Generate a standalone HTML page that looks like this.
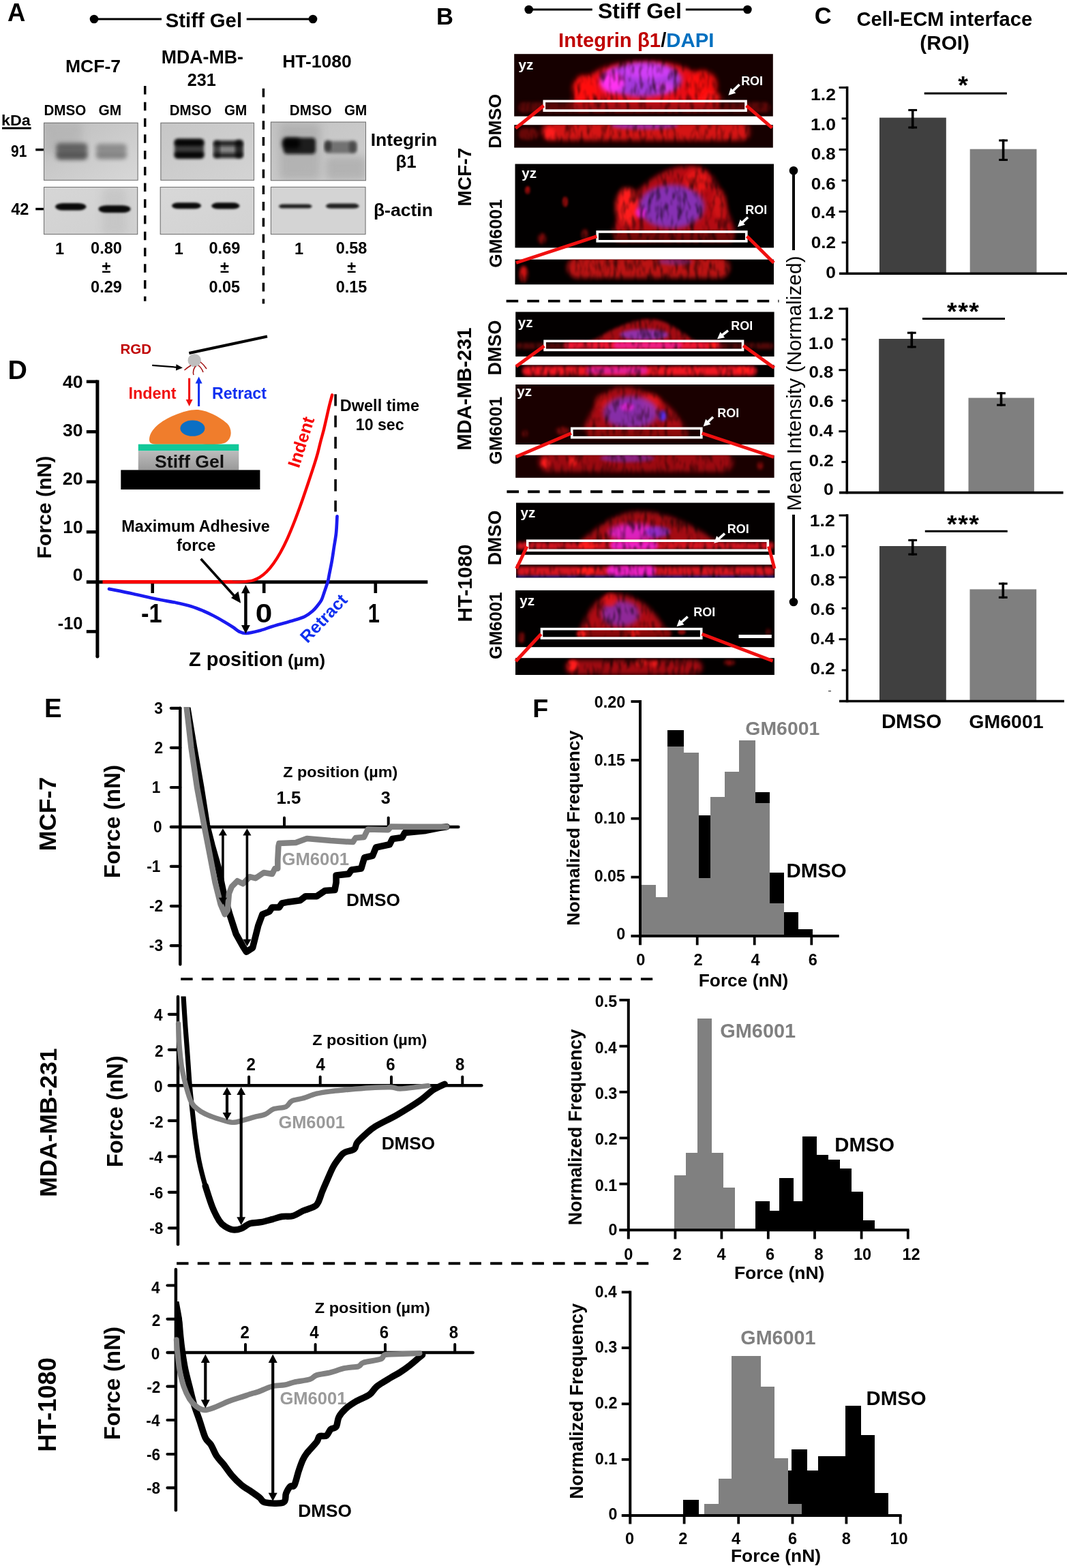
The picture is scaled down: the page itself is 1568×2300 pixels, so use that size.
<!DOCTYPE html>
<html lang="en"><head><meta charset="utf-8"><title>Figure</title>
<style>
html,body{margin:0;padding:0;background:#fff;}
body{width:1568px;height:2300px;overflow:hidden;}
svg{display:block;}
svg text{font-family:"Liberation Sans",sans-serif;white-space:pre;}
</style></head><body>
<svg width="1568" height="2300" viewBox="0 0 1568 2300">
<rect width="1568" height="2300" fill="#fff"/>
<defs><filter id="bl2" x="-20%" y="-60%" width="140%" height="220%"><feGaussianBlur stdDeviation="2"/></filter><filter id="bl3" x="-20%" y="-60%" width="140%" height="220%"><feGaussianBlur stdDeviation="3"/></filter><filter id="bl1" x="-20%" y="-60%" width="140%" height="220%"><feGaussianBlur stdDeviation="1.5"/></filter><filter id="bl6" x="-30%" y="-80%" width="160%" height="260%"><feGaussianBlur stdDeviation="6"/></filter></defs>
<text x="11.09" y="30.6" font-size="36.43" font-weight="bold" fill="#000">A</text>
<line x1="138" y1="28" x2="237" y2="28" stroke="#000" stroke-width="3"/><circle cx="138" cy="28" r="6.3" fill="#000"/><line x1="361.7" y1="28" x2="459" y2="28" stroke="#000" stroke-width="3"/><circle cx="459" cy="28" r="6.3" fill="#000"/>
<text x="242.79" y="39.5" font-size="29.29" font-weight="bold" fill="#000">Stiff Gel</text>
<text x="95.97" y="106" font-size="26.56" font-weight="bold" fill="#000">MCF-7</text>
<text x="236.76" y="93" font-size="26.71" font-weight="bold" fill="#000">MDA-MB-</text>
<text x="274.68" y="125.8" font-size="25.16" font-weight="bold" fill="#000">231</text>
<text x="414.28" y="99" font-size="26.44" font-weight="bold" fill="#000">HT-1080</text>
<text transform="translate(65.8,168.5) scale(0.9374,1)" x="-1.43" y="0" font-size="22" font-weight="bold" fill="#000">DMSO</text>
<text transform="translate(250,168.5) scale(0.9326,1)" x="-1.43" y="0" font-size="22" font-weight="bold" fill="#000">DMSO</text>
<text transform="translate(426.2,168.5) scale(0.9389,1)" x="-1.43" y="0" font-size="22" font-weight="bold" fill="#000">DMSO</text>
<text transform="translate(145.4,168.5) scale(0.9484,1)" x="-0.88" y="0" font-size="22" font-weight="bold" fill="#000">GM</text>
<text transform="translate(329.8,168.5) scale(0.9423,1)" x="-0.88" y="0" font-size="22" font-weight="bold" fill="#000">GM</text>
<text transform="translate(505.8,168.5) scale(0.9423,1)" x="-0.88" y="0" font-size="22" font-weight="bold" fill="#000">GM</text>
<text transform="translate(3.5,184.2) scale(1.0521,1)" x="-1.5" y="0" font-size="22.2" font-weight="bold" fill="#000">kDa</text>
<line x1="3" y1="188.1" x2="45.7" y2="188.1" stroke="#000" stroke-width="3"/>
<text transform="translate(16.8,229.6) scale(0.8602,1)" x="-0.79" y="0" font-size="24.3" font-weight="bold" fill="#000">91</text>
<text transform="translate(16.6,314.8) scale(0.9690,1)" x="-0.36" y="0" font-size="24.3" font-weight="bold" fill="#000">42</text>
<line x1="52.2" y1="219.6" x2="63.8" y2="219.6" stroke="#000" stroke-width="3.5"/><line x1="52.2" y1="306.6" x2="63.8" y2="306.6" stroke="#000" stroke-width="3.5"/>
<defs><clipPath id="cb1"><rect x="64" y="179.8" width="138.6" height="85"/></clipPath><linearGradient id="gb1" x1="0" y1="0" x2="1" y2="1"><stop offset="0" stop-color="#bdbdbd"/><stop offset="1" stop-color="#d8d8d8"/></linearGradient></defs><rect x="64" y="179.8" width="138.6" height="85" fill="url(#gb1)"/><g clip-path="url(#cb1)"><rect x="64" y="180" width="56" height="45" rx="5" fill="#aaa" opacity="0.5" filter="url(#bl6)"/><rect x="82.5" y="210" width="45.5" height="12" rx="5" fill="#555" opacity="0.75" filter="url(#bl3)"/><rect x="82.5" y="221" width="45.5" height="13" rx="5" fill="#4a4a4a" opacity="0.85" filter="url(#bl3)"/><rect x="84" y="212" width="43" height="20" rx="5" fill="#555" opacity="0.5" filter="url(#bl3)"/><rect x="141" y="211" width="44.5" height="11" rx="5" fill="#777" opacity="0.6" filter="url(#bl3)"/><rect x="141" y="222" width="44.5" height="11" rx="5" fill="#6a6a6a" opacity="0.65" filter="url(#bl3)"/><rect x="142" y="213" width="43" height="19" rx="5" fill="#777" opacity="0.4" filter="url(#bl3)"/></g><rect x="64.5" y="180.3" width="137.6" height="84" fill="none" stroke="#6e6e6e" stroke-width="1"/>
<defs><clipPath id="cb2"><rect x="64" y="274" width="138.2" height="70.1"/></clipPath><linearGradient id="gb2" x1="0" y1="0" x2="1" y2="1"><stop offset="0" stop-color="#d6d6d6"/><stop offset="1" stop-color="#d0d0d0"/></linearGradient></defs><rect x="64" y="274" width="138.2" height="70.1" fill="url(#gb2)"/><g clip-path="url(#cb2)"><rect x="150" y="276" width="35" height="68" rx="5" fill="#bbb" opacity="0.5" filter="url(#bl6)"/><rect x="81" y="298" width="45.5" height="10.5" rx="11.55" ry="5.25" fill="#000" opacity="0.95" filter="url(#bl1)"/><rect x="144.5" y="301.3" width="47" height="10.7" rx="11.77" ry="5.35" fill="#000" opacity="0.95" filter="url(#bl1)"/></g><rect x="64.5" y="274.5" width="137.2" height="69.1" fill="none" stroke="#6e6e6e" stroke-width="1"/>
<defs><clipPath id="cb3"><rect x="235.4" y="179.8" width="137.6" height="85"/></clipPath><linearGradient id="gb3" x1="0" y1="0" x2="1" y2="1"><stop offset="0" stop-color="#c6c6c6"/><stop offset="1" stop-color="#d4d4d4"/></linearGradient></defs><rect x="235.4" y="179.8" width="137.6" height="85" fill="url(#gb3)"/><g clip-path="url(#cb3)"><rect x="256" y="204" width="43" height="28" rx="5" fill="#222" opacity="0.85" filter="url(#bl2)"/><rect x="256" y="204.5" width="43" height="9.5" rx="4.75" fill="#000" opacity="0.9" filter="url(#bl2)"/><rect x="256" y="223" width="43" height="9" rx="4.5" fill="#000" opacity="0.9" filter="url(#bl2)"/><rect x="313.5" y="207" width="42.5" height="24" rx="5" fill="#666" opacity="0.7" filter="url(#bl2)"/><rect x="313.5" y="206.5" width="42.5" height="7.5" rx="3.75" fill="#111" opacity="0.8" filter="url(#bl2)"/><rect x="313.5" y="224.5" width="42.5" height="7" rx="3.5" fill="#111" opacity="0.8" filter="url(#bl2)"/><rect x="345" y="205" width="11.5" height="27" rx="5" fill="#000" opacity="0.7" filter="url(#bl2)"/><rect x="313" y="206" width="10" height="26" rx="5" fill="#000" opacity="0.5" filter="url(#bl2)"/></g><rect x="235.9" y="180.3" width="136.6" height="84" fill="none" stroke="#6e6e6e" stroke-width="1"/>
<defs><clipPath id="cb4"><rect x="234.7" y="274" width="138.3" height="70.1"/></clipPath><linearGradient id="gb4" x1="0" y1="0" x2="1" y2="1"><stop offset="0" stop-color="#d8d8d8"/><stop offset="1" stop-color="#d2d2d2"/></linearGradient></defs><rect x="234.7" y="274" width="138.3" height="70.1" fill="url(#gb4)"/><g clip-path="url(#cb4)"><rect x="252" y="297.3" width="43" height="9" rx="9.9" ry="4.5" fill="#000" opacity="0.95" filter="url(#bl1)"/><rect x="310.2" y="297.3" width="41.3" height="9.3" rx="10.23" ry="4.65" fill="#000" opacity="0.95" filter="url(#bl1)"/></g><rect x="235.2" y="274.5" width="137.3" height="69.1" fill="none" stroke="#6e6e6e" stroke-width="1"/>
<defs><clipPath id="cb5"><rect x="396.9" y="178.6" width="140.1" height="86.6"/></clipPath><linearGradient id="gb5" x1="0" y1="0" x2="1" y2="1"><stop offset="0" stop-color="#c2c2c2"/><stop offset="1" stop-color="#cfcfcf"/></linearGradient></defs><rect x="396.9" y="178.6" width="140.1" height="86.6" fill="url(#gb5)"/><g clip-path="url(#cb5)"><rect x="410" y="181" width="60" height="83" rx="5" fill="#999" opacity="0.45" filter="url(#bl6)"/><rect x="478" y="230" width="59" height="34" rx="5" fill="#999" opacity="0.5" filter="url(#bl6)"/><rect x="416" y="202" width="47" height="24" rx="5" fill="#111" opacity="0.9" filter="url(#bl2)"/><rect x="414" y="203" width="26" height="15" rx="5" fill="#000" opacity="0.9" filter="url(#bl3)"/><rect x="476" y="207" width="47" height="18" rx="5" fill="#555" opacity="0.75" filter="url(#bl2)"/><rect x="476" y="206" width="10" height="16" rx="5" fill="#222" opacity="0.7" filter="url(#bl2)"/><rect x="512" y="207" width="11" height="17" rx="5" fill="#333" opacity="0.6" filter="url(#bl2)"/></g><rect x="397.4" y="179.1" width="139.1" height="85.6" fill="none" stroke="#6e6e6e" stroke-width="1"/>
<defs><clipPath id="cb6"><rect x="396.9" y="273.9" width="139.6" height="70.2"/></clipPath><linearGradient id="gb6" x1="0" y1="0" x2="1" y2="1"><stop offset="0" stop-color="#d4d4d4"/><stop offset="1" stop-color="#d4d4d4"/></linearGradient></defs><rect x="396.9" y="273.9" width="139.6" height="70.2" fill="url(#gb6)"/><g clip-path="url(#cb6)"><rect x="409" y="299.6" width="48.5" height="6" rx="6.6" ry="3" fill="#111" opacity="0.9" filter="url(#bl1)"/><rect x="478" y="298.6" width="48.5" height="7.2" rx="7.92" ry="3.6" fill="#111" opacity="0.9" filter="url(#bl1)"/></g><rect x="397.4" y="274.4" width="138.6" height="69.2" fill="none" stroke="#6e6e6e" stroke-width="1"/>
<text x="543.67" y="214.3" font-size="26.64" font-weight="bold" fill="#000">Integrin</text>
<text x="580.56" y="245.8" font-size="25.83" font-weight="bold" fill="#000">β1</text>
<text x="547.91" y="316.7" font-size="26.57" font-weight="bold" fill="#000">β-actin</text>
<text x="81.04" y="372.6" font-size="23.5" font-weight="bold" fill="#000">1</text>
<text x="133.12" y="372.2" font-size="23.53" font-weight="bold" fill="#000">0.80</text>
<text x="149.54" y="400" font-size="23.5" font-weight="bold" fill="#000">±</text>
<text x="133.12" y="428.8" font-size="23.5" font-weight="bold" fill="#000">0.29</text>
<text x="255.84" y="372.6" font-size="23.5" font-weight="bold" fill="#000">1</text>
<text x="306.52" y="372.2" font-size="23.55" font-weight="bold" fill="#000">0.69</text>
<text x="322.99" y="400" font-size="23.5" font-weight="bold" fill="#000">±</text>
<text x="306.52" y="428.8" font-size="23.43" font-weight="bold" fill="#000">0.05</text>
<text x="432.04" y="372.6" font-size="23.5" font-weight="bold" fill="#000">1</text>
<text x="492.72" y="372.2" font-size="23.46" font-weight="bold" fill="#000">0.58</text>
<text x="509.19" y="400" font-size="23.5" font-weight="bold" fill="#000">±</text>
<text x="492.72" y="428.8" font-size="23.43" font-weight="bold" fill="#000">0.15</text>
<line x1="212.7" y1="126" x2="212.7" y2="441.7" stroke="#000" stroke-width="3.5" stroke-dasharray="12.6 11.15"/>
<line x1="386.4" y1="129.8" x2="386.4" y2="445.5" stroke="#000" stroke-width="3.5" stroke-dasharray="12.6 11.15"/>
<defs><filter id="fb1" x="-30%" y="-60%" width="160%" height="220%"><feGaussianBlur stdDeviation="1.2"/></filter><filter id="fb2" x="-30%" y="-80%" width="160%" height="260%"><feGaussianBlur stdDeviation="2.2"/></filter><filter id="fb3" x="-30%" y="-60%" width="160%" height="220%"><feGaussianBlur stdDeviation="3.5"/></filter><filter id="fb5" x="-30%" y="-60%" width="160%" height="220%"><feGaussianBlur stdDeviation="5.5"/></filter><filter id="tex0" filterUnits="userSpaceOnUse" x="750" y="70" width="392" height="930" color-interpolation-filters="sRGB"><feTurbulence type="fractalNoise" baseFrequency="0.16 0.05" numOctaves="2" seed="3" result="n"/><feColorMatrix in="n" type="matrix" values="0 0 0 0 0  0 0 0 0 0  0 0 0 0 0  0 0 0 1.7 0.08" result="a"/><feComposite in="SourceGraphic" in2="a" operator="in" result="c"/><feGaussianBlur in="c" stdDeviation="1.1"/></filter><filter id="tex1" filterUnits="userSpaceOnUse" x="750" y="70" width="392" height="930" color-interpolation-filters="sRGB"><feTurbulence type="fractalNoise" baseFrequency="0.16 0.05" numOctaves="2" seed="7" result="n"/><feColorMatrix in="n" type="matrix" values="0 0 0 0 0  0 0 0 0 0  0 0 0 0 0  0 0 0 1.7 0.08" result="a"/><feComposite in="SourceGraphic" in2="a" operator="in" result="c"/><feGaussianBlur in="c" stdDeviation="1.1"/></filter><filter id="tex2" filterUnits="userSpaceOnUse" x="750" y="70" width="392" height="930" color-interpolation-filters="sRGB"><feTurbulence type="fractalNoise" baseFrequency="0.16 0.05" numOctaves="2" seed="11" result="n"/><feColorMatrix in="n" type="matrix" values="0 0 0 0 0  0 0 0 0 0  0 0 0 0 0  0 0 0 1.7 0.08" result="a"/><feComposite in="SourceGraphic" in2="a" operator="in" result="c"/><feGaussianBlur in="c" stdDeviation="1.1"/></filter></defs>
<text x="640.05" y="35.7" font-size="34.61" font-weight="bold" fill="#000">B</text>
<line x1="775.7" y1="14" x2="868.8" y2="14" stroke="#000" stroke-width="3"/><circle cx="775.7" cy="14" r="6.3" fill="#000"/><line x1="1005.8" y1="14" x2="1096.4" y2="14" stroke="#000" stroke-width="3"/><circle cx="1096.4" cy="14" r="6.3" fill="#000"/>
<text x="876.92" y="26.8" font-size="32.1" font-weight="bold" fill="#000">Stiff Gel</text>
<text x="819.09" y="69.4" font-size="29.37" font-weight="bold"><tspan fill="#c00000">Integrin β1</tspan><tspan fill="#000">/</tspan><tspan fill="#0070c0">DAPI</tspan></text>
<text transform="translate(691.3,301) rotate(-90)" x="-1.83" y="0" font-size="28.16" font-weight="bold" fill="#000">MCF-7</text>
<text transform="translate(691.3,658.9) rotate(-90)" x="-1.9" y="0" font-size="29.22" font-weight="bold" fill="#000">MDA-MB-231</text>
<text transform="translate(692.3,910.6) rotate(-90)" x="-1.93" y="0" font-size="29.77" font-weight="bold" fill="#000">HT-1080</text>
<text transform="translate(735.3,216) rotate(-90)" x="-1.73" y="0" font-size="26.6" font-weight="bold" fill="#000">DMSO</text>
<text transform="translate(735.3,548.7) rotate(-90)" x="-1.76" y="0" font-size="27.01" font-weight="bold" fill="#000">DMSO</text>
<text transform="translate(735.3,827.6) rotate(-90)" x="-1.75" y="0" font-size="26.91" font-weight="bold" fill="#000">DMSO</text>
<text transform="translate(735.6,391.7) rotate(-90)" x="-1.05" y="0" font-size="26.21" font-weight="bold" fill="#000">GM6001</text>
<text transform="translate(735.6,680.4) rotate(-90)" x="-1.04" y="0" font-size="25.94" font-weight="bold" fill="#000">GM6001</text>
<text transform="translate(735.6,966) rotate(-90)" x="-1.03" y="0" font-size="25.68" font-weight="bold" fill="#000">GM6001</text>
<line x1="742.6" y1="441.6" x2="1142.5" y2="441.6" stroke="#000" stroke-width="3.9" stroke-dasharray="17.6 13.07"/>
<line x1="743.4" y1="721.2" x2="1129.2" y2="721.2" stroke="#000" stroke-width="3.9" stroke-dasharray="17.6 13.07"/>
<defs><clipPath id="ci1a"><rect x="754.2" y="79.2" width="379.6" height="91.4"/></clipPath><clipPath id="ci1b"><rect x="754.2" y="183.2" width="379.6" height="33.4"/></clipPath></defs><rect x="754.2" y="79.2" width="379.6" height="91.4" fill="#160000"/><rect x="754.2" y="183.2" width="379.6" height="33.4" fill="#160000"/><g clip-path="url(#ci1a)"><g filter="url(#tex1)"><path d="M836 160 C849.14 107.5 885.27 90 945.5 90 C1005.73 90 1041.86 107.5 1055 160 Z" fill="#e81018" opacity="1" filter="url(#fb3)"/><ellipse cx="858" cy="130" rx="18" ry="20" fill="#ff1010" opacity="1" filter="url(#fb3)"/><ellipse cx="1030" cy="125" rx="22" ry="22" fill="#ff1010" opacity="0.9" filter="url(#fb3)"/><ellipse cx="1045" cy="145" rx="14" ry="10" fill="#ff1414" opacity="0.8" filter="url(#fb3)"/><ellipse cx="942" cy="117" rx="58" ry="25" fill="#9a40ff" opacity="0.85" filter="url(#fb3)"/><ellipse cx="898" cy="120" rx="18" ry="16" fill="#ff30f0" opacity="1" filter="url(#fb3)"/><ellipse cx="950" cy="105" rx="36" ry="11" fill="#e040ff" opacity="0.75" filter="url(#fb3)"/><ellipse cx="975" cy="128" rx="14" ry="8" fill="#f040f0" opacity="0.6" filter="url(#fb3)"/><rect x="760" y="150" width="370" height="15" rx="7.5" fill="#8a080c" opacity="0.6" filter="url(#fb2)"/><rect x="840" y="152" width="210" height="12" rx="6" fill="#b00e14" opacity="0.5" filter="url(#fb2)"/></g></g><g clip-path="url(#ci1b)"><g filter="url(#tex2)"><rect x="795" y="180" width="305" height="26" rx="13" fill="#e01218" opacity="0.95" filter="url(#fb3)"/><ellipse cx="807" cy="196" rx="8" ry="9" fill="#ff1a1a" opacity="1" filter="url(#fb2)"/><ellipse cx="945" cy="184" rx="50" ry="6" fill="#9030d0" opacity="0.7" filter="url(#fb2)"/><rect x="760" y="188" width="30" height="17" rx="8.5" fill="#a00a0e" opacity="0.6" filter="url(#fb2)"/></g></g><rect x="798.3" y="148.4" width="295.7" height="13.8" fill="none" stroke="#fff" stroke-width="3.6"/><line x1="797.5" y1="155" x2="756.2" y2="188.2" stroke="#f01010" stroke-width="4.9"/><line x1="1094.8" y1="155" x2="1132.5" y2="187.5" stroke="#f01010" stroke-width="4.9"/><text x="760.54" y="102.4" font-size="20.74" font-weight="bold" fill="#fff">yz</text><text x="1087.13" y="124.8" font-size="17.97" font-weight="bold" fill="#fff">ROI</text><line x1="1084.6" y1="124" x2="1074.86" y2="133.44" stroke="#fff" stroke-width="3.6"/><path d="M1068.4 139.7 L1071.89 128.93 L1079.27 136.55 Z" fill="#fff"/>
<defs><clipPath id="ci2a"><rect x="755.5" y="240.5" width="379.5" height="122.9"/></clipPath><clipPath id="ci2b"><rect x="755.5" y="380.6" width="379.5" height="36.7"/></clipPath></defs><rect x="755.5" y="240.5" width="379.5" height="122.9" fill="#020000"/><rect x="755.5" y="380.6" width="379.5" height="36.7" fill="#020000"/><g clip-path="url(#ci2a)"><g filter="url(#tex2)"><path d="M897 342 C919.33 279.04 971.07 243 1010.75 243 C1050.43 243 1056.67 279.04 1079 342 Z" fill="#c80e16" opacity="0.9" filter="url(#fb3)"/><ellipse cx="920" cy="303" rx="17" ry="28" fill="#ff1a1a" opacity="1" filter="url(#fb3)"/><ellipse cx="1022" cy="266" rx="18" ry="18" fill="#f01818" opacity="0.85" filter="url(#fb3)"/><ellipse cx="1055" cy="300" rx="10" ry="22" fill="#e01414" opacity="0.7" filter="url(#fb3)"/><ellipse cx="985" cy="303" rx="48" ry="32" fill="#7a3ae0" opacity="0.78" filter="url(#fb3)"/><ellipse cx="940" cy="312" rx="8" ry="8" fill="#f020e0" opacity="0.8" filter="url(#fb2)"/><ellipse cx="774" cy="279" rx="4" ry="6" fill="#c01010" opacity="0.8" filter="url(#fb1)"/><ellipse cx="829" cy="296" rx="4" ry="8" fill="#c01010" opacity="0.8" filter="url(#fb1)"/><ellipse cx="795" cy="350" rx="6" ry="8" fill="#b00e0e" opacity="0.7" filter="url(#fb2)"/><ellipse cx="858" cy="345" rx="5" ry="9" fill="#b00e0e" opacity="0.7" filter="url(#fb2)"/><rect x="900" y="340" width="178" height="16" rx="8" fill="#a00c10" opacity="0.7" filter="url(#fb2)"/></g></g><g clip-path="url(#ci2b)"><g filter="url(#tex0)"><rect x="832" y="377" width="238" height="31" rx="15.5" fill="#d01218" opacity="0.9" filter="url(#fb3)"/><ellipse cx="768" cy="402" rx="6" ry="12" fill="#f01414" opacity="0.9" filter="url(#fb2)"/><ellipse cx="990" cy="384" rx="25" ry="5" fill="#7030c0" opacity="0.5" filter="url(#fb2)"/></g></g><rect x="876.2" y="340" width="218.6" height="13.8" fill="none" stroke="#fff" stroke-width="3.6"/><line x1="875.4" y1="346.6" x2="757" y2="385.5" stroke="#f01010" stroke-width="4.9"/><line x1="1095.6" y1="346.6" x2="1135" y2="385.5" stroke="#f01010" stroke-width="4.9"/><text x="765.24" y="261.1" font-size="20.74" font-weight="bold" fill="#fff">yz</text><text x="1093.33" y="313.9" font-size="17.97" font-weight="bold" fill="#fff">ROI</text><line x1="1097" y1="318.8" x2="1088.58" y2="326.66" stroke="#fff" stroke-width="3.6"/><path d="M1082 332.8 L1085.69 322.1 L1092.93 329.85 Z" fill="#fff"/>
<defs><clipPath id="ci3a"><rect x="756.2" y="457.5" width="379.4" height="65.4"/></clipPath><clipPath id="ci3b"><rect x="756.2" y="535.3" width="379.4" height="17.9"/></clipPath></defs><rect x="756.2" y="457.5" width="379.4" height="65.4" fill="#030000"/><rect x="756.2" y="535.3" width="379.4" height="17.9" fill="#030000"/><g clip-path="url(#ci3a)"><g filter="url(#tex0)"><rect x="757" y="503" width="378" height="9" rx="4.5" fill="#8a080c" opacity="0.6" filter="url(#fb2)"/><path d="M862 504 C892.13 485.1 925.55 468 952.2 468 C978.85 468 995.87 485.1 1026 504 Z" fill="#c00e16" opacity="0.85" filter="url(#fb2)"/><ellipse cx="945" cy="491" rx="36" ry="8" fill="#8a40e8" opacity="0.7" filter="url(#fb2)"/><rect x="828" y="501" width="230" height="11" rx="5.5" fill="#f01430" opacity="1" filter="url(#fb2)"/><rect x="900" y="502" width="100" height="9" rx="4.5" fill="#f020a0" opacity="0.8" filter="url(#fb2)"/><ellipse cx="1045" cy="507" rx="8" ry="4" fill="#ff1a1a" opacity="1" filter="url(#fb1)"/></g></g><g clip-path="url(#ci3b)"><g filter="url(#tex1)"><rect x="766" y="537" width="344" height="14" rx="7" fill="#f01420" opacity="1" filter="url(#fb2)"/><rect x="860" y="538" width="90" height="11" rx="5.5" fill="#e020b0" opacity="0.8" filter="url(#fb2)"/><ellipse cx="1090" cy="543" rx="10" ry="5" fill="#ff1a1a" opacity="1" filter="url(#fb1)"/></g></g><rect x="799.1" y="500.3" width="290.4" height="13.1" fill="none" stroke="#fff" stroke-width="3.6"/><line x1="798.3" y1="507.5" x2="757" y2="537.5" stroke="#f01010" stroke-width="4.9"/><line x1="1090.3" y1="507" x2="1135.5" y2="539.5" stroke="#f01010" stroke-width="4.9"/><text x="759.84" y="479.9" font-size="20.74" font-weight="bold" fill="#fff">yz</text><text x="1072.23" y="484.3" font-size="17.97" font-weight="bold" fill="#fff">ROI</text><line x1="1068" y1="484.8" x2="1059.09" y2="491.76" stroke="#fff" stroke-width="3.6"/><path d="M1052 497.3 L1056.62 486.97 L1063.14 495.32 Z" fill="#fff"/>
<defs><clipPath id="ci4a"><rect x="756.2" y="564" width="379.4" height="88"/></clipPath><clipPath id="ci4b"><rect x="756.2" y="667.7" width="379.4" height="33.1"/></clipPath></defs><rect x="756.2" y="564" width="379.4" height="88" fill="#1a0000"/><rect x="756.2" y="667.7" width="379.4" height="33.1" fill="#1a0000"/><g clip-path="url(#ci4a)"><g filter="url(#tex1)"><path d="M855 630 C874.03 590.94 882.93 568 915.4 568 C947.87 568 986.97 590.94 1006 630 Z" fill="#b80e16" opacity="0.9" filter="url(#fb3)"/><ellipse cx="955" cy="592" rx="14" ry="14" fill="#f01818" opacity="0.8" filter="url(#fb3)"/><ellipse cx="885" cy="590" rx="12" ry="12" fill="#e01414" opacity="0.6" filter="url(#fb3)"/><ellipse cx="925" cy="605" rx="40" ry="24" fill="#7a3ae0" opacity="0.72" filter="url(#fb3)"/><ellipse cx="920" cy="597" rx="10" ry="6" fill="#f020e0" opacity="0.8" filter="url(#fb2)"/><ellipse cx="972" cy="610" rx="6" ry="8" fill="#5030ff" opacity="0.9" filter="url(#fb2)"/><rect x="860" y="628" width="150" height="14" rx="7" fill="#a80c10" opacity="0.8" filter="url(#fb2)"/><ellipse cx="825" cy="632" rx="10" ry="6" fill="#a00c0e" opacity="0.7" filter="url(#fb2)"/><ellipse cx="770" cy="636" rx="4" ry="5" fill="#a00c0e" opacity="0.7" filter="url(#fb2)"/></g></g><g clip-path="url(#ci4b)"><g filter="url(#tex2)"><rect x="790" y="664" width="285" height="28" rx="14" fill="#c81016" opacity="0.75" filter="url(#fb3)"/><ellipse cx="800" cy="679" rx="6" ry="7" fill="#ff1a1a" opacity="1" filter="url(#fb2)"/><ellipse cx="840" cy="677" rx="6" ry="7" fill="#ff1a1a" opacity="0.9" filter="url(#fb2)"/><ellipse cx="920" cy="672" rx="40" ry="6" fill="#8030d0" opacity="0.6" filter="url(#fb2)"/><ellipse cx="1115" cy="683" rx="4" ry="6" fill="#c01010" opacity="0.7" filter="url(#fb2)"/></g></g><rect x="838.8" y="628.4" width="190" height="13.3" fill="none" stroke="#fff" stroke-width="3.6"/><line x1="838" y1="635.5" x2="757" y2="670" stroke="#f01010" stroke-width="4.9"/><line x1="1029.6" y1="635.5" x2="1135" y2="670.5" stroke="#f01010" stroke-width="4.9"/><text x="758.34" y="580.6" font-size="20.74" font-weight="bold" fill="#fff">yz</text><text x="1052.33" y="612.2" font-size="17.97" font-weight="bold" fill="#fff">ROI</text><line x1="1046" y1="611.7" x2="1038.12" y2="619.2" stroke="#fff" stroke-width="3.6"/><path d="M1031.6 625.4 L1035.19 614.67 L1042.5 622.35 Z" fill="#fff"/>
<defs><clipPath id="ci5a"><rect x="757" y="737.5" width="379.3" height="76.3"/></clipPath><clipPath id="ci5b"><rect x="757" y="828.3" width="379.3" height="19.1"/></clipPath></defs><rect x="757" y="737.5" width="379.3" height="76.3" fill="#030000"/><rect x="757" y="828.3" width="379.3" height="19.1" fill="#030000"/><g clip-path="url(#ci5a)"><g filter="url(#tex2)"><path d="M843 800 C878.96 772.25 901.59 750 939.75 750 C977.91 750 1022.04 772.25 1058 800 Z" fill="#c00e16" opacity="0.85" filter="url(#fb3)"/><ellipse cx="930" cy="781" rx="38" ry="13" fill="#e020c8" opacity="0.95" filter="url(#fb3)"/><ellipse cx="965" cy="780" rx="18" ry="8" fill="#8030e0" opacity="0.7" filter="url(#fb2)"/><rect x="757" y="795" width="379" height="11" rx="5.5" fill="#e01420" opacity="0.95" filter="url(#fb2)"/><rect x="895" y="794" width="70" height="12" rx="6" fill="#f020d0" opacity="0.95" filter="url(#fb2)"/><ellipse cx="862" cy="800" rx="14" ry="5" fill="#ff1a1a" opacity="1" filter="url(#fb1)"/></g></g><g clip-path="url(#ci5b)"><g filter="url(#tex0)"><rect x="757" y="831" width="379" height="14" rx="7" fill="#e01420" opacity="0.95" filter="url(#fb2)"/><rect x="890" y="830" width="72" height="15" rx="7.5" fill="#f020d0" opacity="0.95" filter="url(#fb2)"/><ellipse cx="860" cy="838" rx="14" ry="5" fill="#ff1a1a" opacity="1" filter="url(#fb1)"/><rect x="757" y="844" width="379" height="4" rx="2" fill="#3030e0" opacity="0.5" filter="url(#fb1)"/></g></g><rect x="773.7" y="793.2" width="352.6" height="14.1" fill="none" stroke="#fff" stroke-width="3.6"/><line x1="773" y1="801.5" x2="757.5" y2="834" stroke="#f01010" stroke-width="4.9"/><line x1="1127.5" y1="801.5" x2="1136" y2="834" stroke="#f01010" stroke-width="4.9"/><text x="763.54" y="758.6" font-size="20.74" font-weight="bold" fill="#fff">yz</text><text x="1066.73" y="782.2" font-size="17.97" font-weight="bold" fill="#fff">ROI</text><line x1="1063" y1="782.7" x2="1054.02" y2="790.71" stroke="#fff" stroke-width="3.6"/><path d="M1047.3 796.7 L1051.24 786.09 L1058.29 794 Z" fill="#fff"/>
<defs><clipPath id="ci6a"><rect x="756" y="865.9" width="379.9" height="83.3"/></clipPath><clipPath id="ci6b"><rect x="756" y="965.2" width="379.9" height="24.8"/></clipPath></defs><rect x="756" y="865.9" width="379.9" height="83.3" fill="#020000"/><rect x="756" y="965.2" width="379.9" height="24.8" fill="#020000"/><g clip-path="url(#ci6a)"><g filter="url(#tex0)"><path d="M850 925 C865.88 890.98 876.46 871 903.55 871 C930.64 871 960.12 890.98 976 925 Z" fill="#c00e16" opacity="0.9" filter="url(#fb3)"/><ellipse cx="910" cy="900" rx="28" ry="19" fill="#8038e0" opacity="0.65" filter="url(#fb3)"/><ellipse cx="895" cy="880" rx="10" ry="10" fill="#f01818" opacity="0.7" filter="url(#fb2)"/><rect x="845" y="922" width="140" height="14" rx="7" fill="#b00c10" opacity="0.75" filter="url(#fb2)"/><ellipse cx="853" cy="930" rx="6" ry="5" fill="#ff1a1a" opacity="0.9" filter="url(#fb1)"/><ellipse cx="930" cy="929" rx="8" ry="5" fill="#f01818" opacity="0.8" filter="url(#fb1)"/><ellipse cx="765" cy="935" rx="4" ry="8" fill="#c01010" opacity="0.8" filter="url(#fb2)"/><ellipse cx="1127" cy="928" rx="3" ry="6" fill="#c01010" opacity="0.7" filter="url(#fb2)"/><ellipse cx="1000" cy="927" rx="6" ry="4" fill="#c01010" opacity="0.7" filter="url(#fb1)"/></g></g><g clip-path="url(#ci6b)"><g filter="url(#tex1)"><rect x="830" y="968" width="200" height="22" rx="11" fill="#c81016" opacity="0.8" filter="url(#fb3)"/><ellipse cx="840" cy="976" rx="8" ry="8" fill="#ff1a1a" opacity="1" filter="url(#fb2)"/><ellipse cx="940" cy="972" rx="8" ry="5" fill="#ff1a1a" opacity="0.9" filter="url(#fb2)"/><ellipse cx="960" cy="974" rx="6" ry="5" fill="#ff1a1a" opacity="0.9" filter="url(#fb2)"/><ellipse cx="1070" cy="972" rx="8" ry="4" fill="#c01010" opacity="0.7" filter="url(#fb2)"/></g></g><rect x="794.5" y="922.6" width="234.2" height="13.5" fill="none" stroke="#fff" stroke-width="3.6"/><line x1="793.7" y1="930" x2="756.5" y2="970" stroke="#f01010" stroke-width="4.9"/><line x1="1029.5" y1="930" x2="1133.5" y2="969.5" stroke="#f01010" stroke-width="4.9"/><text x="762.34" y="887.5" font-size="20.74" font-weight="bold" fill="#fff">yz</text><text x="1017.33" y="903.6" font-size="17.97" font-weight="bold" fill="#fff">ROI</text><line x1="1008.7" y1="904.6" x2="999.23" y2="913.02" stroke="#fff" stroke-width="3.6"/><path d="M992.5 919 L996.45 908.4 L1003.5 916.32 Z" fill="#fff"/>
<rect x="1083.5" y="931" width="48.3" height="5" fill="#fff"/>
<text x="1194.82" y="35.2" font-size="34.5" font-weight="bold" fill="#000">C</text>
<text x="1256.53" y="37.7" font-size="29.16" font-weight="bold" fill="#000">Cell-ECM interface</text>
<text x="1349.29" y="73.2" font-size="29.73" font-weight="bold" fill="#000">(ROI)</text>
<rect x="1290" y="172.6" width="97.8" height="228.6" fill="#404040"/><rect x="1422.7" y="218.7" width="97.8" height="182.5" fill="#7f7f7f"/><line x1="1338.7" y1="160" x2="1338.7" y2="188.5" stroke="#000" stroke-width="3.6"/><line x1="1332.3" y1="161.5" x2="1345.1" y2="161.5" stroke="#000" stroke-width="3.1"/><line x1="1332.3" y1="187" x2="1345.1" y2="187" stroke="#000" stroke-width="3.1"/><line x1="1471.6" y1="204.5" x2="1471.6" y2="236" stroke="#000" stroke-width="3.6"/><line x1="1465.2" y1="206" x2="1478" y2="206" stroke="#000" stroke-width="3.1"/><line x1="1465.2" y1="234.5" x2="1478" y2="234.5" stroke="#000" stroke-width="3.1"/><line x1="1242.6" y1="126.7" x2="1242.6" y2="402.9" stroke="#000" stroke-width="3.6"/><line x1="1231" y1="401.2" x2="1565" y2="401.2" stroke="#000" stroke-width="3.6"/><line x1="1230.6" y1="128.4" x2="1242.6" y2="128.4" stroke="#000" stroke-width="3"/><line x1="1234.6" y1="173.87" x2="1242.6" y2="173.87" stroke="#000" stroke-width="3"/><line x1="1230.6" y1="219.33" x2="1242.6" y2="219.33" stroke="#000" stroke-width="3"/><line x1="1234.6" y1="264.8" x2="1242.6" y2="264.8" stroke="#000" stroke-width="3"/><line x1="1230.6" y1="310.27" x2="1242.6" y2="310.27" stroke="#000" stroke-width="3"/><line x1="1234.6" y1="355.73" x2="1242.6" y2="355.73" stroke="#000" stroke-width="3"/><text transform="translate(1190.6,146.6) scale(1.0840,1)" x="-1.54" y="0" font-size="24.6" font-weight="bold" fill="#000">1.2</text><text transform="translate(1190.6,190.5) scale(1.0840,1)" x="-1.54" y="0" font-size="24.6" font-weight="bold" fill="#000">1.0</text><text transform="translate(1190.6,234) scale(1.0554,1)" x="-0.92" y="0" font-size="24.6" font-weight="bold" fill="#000">0.8</text><text transform="translate(1190.6,277.7) scale(1.0594,1)" x="-0.92" y="0" font-size="24.6" font-weight="bold" fill="#000">0.6</text><text transform="translate(1190.6,320.4) scale(1.0358,1)" x="-0.92" y="0" font-size="24.6" font-weight="bold" fill="#000">0.4</text><text transform="translate(1190.6,364.3) scale(1.0634,1)" x="-0.92" y="0" font-size="24.6" font-weight="bold" fill="#000">0.2</text><text transform="translate(1212.3,407.6) scale(1.0755,1)" x="-0.92" y="0" font-size="24.6" font-weight="bold" fill="#000">0</text><text x="1405.31" y="137.5" font-size="37.6" font-weight="bold" letter-spacing="1.6">*</text><line x1="1355.7" y1="136.9" x2="1476.9" y2="136.9" stroke="#000" stroke-width="3"/>
<rect x="1289.2" y="497" width="96.1" height="225.6" fill="#404040"/><rect x="1420.5" y="583.6" width="96.4" height="139" fill="#7f7f7f"/><line x1="1337.3" y1="486.7" x2="1337.3" y2="510.4" stroke="#000" stroke-width="3.6"/><line x1="1330.9" y1="488.2" x2="1343.7" y2="488.2" stroke="#000" stroke-width="3.1"/><line x1="1330.9" y1="508.9" x2="1343.7" y2="508.9" stroke="#000" stroke-width="3.1"/><line x1="1468.5" y1="575.3" x2="1468.5" y2="595.6" stroke="#000" stroke-width="3.6"/><line x1="1462.1" y1="576.8" x2="1474.9" y2="576.8" stroke="#000" stroke-width="3.1"/><line x1="1462.1" y1="594.1" x2="1474.9" y2="594.1" stroke="#000" stroke-width="3.1"/><line x1="1242.3" y1="451.2" x2="1242.3" y2="724.3" stroke="#000" stroke-width="3.6"/><line x1="1231" y1="722.6" x2="1559.6" y2="722.6" stroke="#000" stroke-width="3.6"/><line x1="1230.3" y1="452.9" x2="1242.3" y2="452.9" stroke="#000" stroke-width="3"/><line x1="1234.3" y1="497.85" x2="1242.3" y2="497.85" stroke="#000" stroke-width="3"/><line x1="1230.3" y1="542.8" x2="1242.3" y2="542.8" stroke="#000" stroke-width="3"/><line x1="1234.3" y1="587.75" x2="1242.3" y2="587.75" stroke="#000" stroke-width="3"/><line x1="1230.3" y1="632.7" x2="1242.3" y2="632.7" stroke="#000" stroke-width="3"/><line x1="1234.3" y1="677.65" x2="1242.3" y2="677.65" stroke="#000" stroke-width="3"/><text transform="translate(1187.4,468.3) scale(1.0840,1)" x="-1.54" y="0" font-size="24.6" font-weight="bold" fill="#000">1.2</text><text transform="translate(1187.4,511.6) scale(1.0840,1)" x="-1.54" y="0" font-size="24.6" font-weight="bold" fill="#000">1.0</text><text transform="translate(1187.4,554.3) scale(1.0554,1)" x="-0.92" y="0" font-size="24.6" font-weight="bold" fill="#000">0.8</text><text transform="translate(1187.4,597) scale(1.0594,1)" x="-0.92" y="0" font-size="24.6" font-weight="bold" fill="#000">0.6</text><text transform="translate(1187.4,640) scale(1.0358,1)" x="-0.92" y="0" font-size="24.6" font-weight="bold" fill="#000">0.4</text><text transform="translate(1187.4,683.6) scale(1.0634,1)" x="-0.92" y="0" font-size="24.6" font-weight="bold" fill="#000">0.2</text><text transform="translate(1209.1,726) scale(1.0755,1)" x="-0.92" y="0" font-size="24.6" font-weight="bold" fill="#000">0</text><text x="1388.91" y="469.8" font-size="37.6" font-weight="bold" letter-spacing="1.6">***</text><line x1="1353" y1="467.4" x2="1474" y2="467.4" stroke="#000" stroke-width="3"/>
<rect x="1290" y="801" width="97.8" height="227.5" fill="#404040"/><rect x="1422.5" y="864.4" width="97.7" height="164.1" fill="#7f7f7f"/><line x1="1338.7" y1="790.9" x2="1338.7" y2="814.6" stroke="#000" stroke-width="3.6"/><line x1="1332.3" y1="792.4" x2="1345.1" y2="792.4" stroke="#000" stroke-width="3.1"/><line x1="1332.3" y1="813.1" x2="1345.1" y2="813.1" stroke="#000" stroke-width="3.1"/><line x1="1471.3" y1="854.6" x2="1471.3" y2="877.8" stroke="#000" stroke-width="3.6"/><line x1="1464.9" y1="856.1" x2="1477.7" y2="856.1" stroke="#000" stroke-width="3.1"/><line x1="1464.9" y1="876.3" x2="1477.7" y2="876.3" stroke="#000" stroke-width="3.1"/><line x1="1242.6" y1="754.3" x2="1242.6" y2="1030.2" stroke="#000" stroke-width="3.6"/><line x1="1231" y1="1028.5" x2="1561" y2="1028.5" stroke="#000" stroke-width="3.6"/><line x1="1230.6" y1="756" x2="1242.6" y2="756" stroke="#000" stroke-width="3"/><line x1="1234.6" y1="801.42" x2="1242.6" y2="801.42" stroke="#000" stroke-width="3"/><line x1="1230.6" y1="846.83" x2="1242.6" y2="846.83" stroke="#000" stroke-width="3"/><line x1="1234.6" y1="892.25" x2="1242.6" y2="892.25" stroke="#000" stroke-width="3"/><line x1="1230.6" y1="937.67" x2="1242.6" y2="937.67" stroke="#000" stroke-width="3"/><line x1="1234.6" y1="983.08" x2="1242.6" y2="983.08" stroke="#000" stroke-width="3"/><text transform="translate(1189.4,772.2) scale(1.0840,1)" x="-1.54" y="0" font-size="24.6" font-weight="bold" fill="#000">1.2</text><text transform="translate(1189.4,816) scale(1.0840,1)" x="-1.54" y="0" font-size="24.6" font-weight="bold" fill="#000">1.0</text><text transform="translate(1189.4,858.8) scale(1.0554,1)" x="-0.92" y="0" font-size="24.6" font-weight="bold" fill="#000">0.8</text><text transform="translate(1189.4,902) scale(1.0594,1)" x="-0.92" y="0" font-size="24.6" font-weight="bold" fill="#000">0.6</text><text transform="translate(1189.4,945.4) scale(1.0358,1)" x="-0.92" y="0" font-size="24.6" font-weight="bold" fill="#000">0.4</text><text transform="translate(1189.4,988.8) scale(1.0634,1)" x="-0.92" y="0" font-size="24.6" font-weight="bold" fill="#000">0.2</text><text x="1388.91" y="781.8" font-size="37.6" font-weight="bold" letter-spacing="1.6">***</text><line x1="1356.8" y1="779.2" x2="1477.8" y2="779.2" stroke="#000" stroke-width="3"/>
<line x1="1215" y1="1013.7" x2="1219" y2="1013.7" stroke="#333" stroke-width="1.2"/>
<text x="1292.89" y="1067.6" font-size="29.43" font-weight="bold" fill="#000">DMSO</text>
<text x="1421.36" y="1067.6" font-size="28.51" font-weight="bold" fill="#000">GM6001</text>
<circle cx="1164" cy="250.3" r="6.3" fill="#000"/><line x1="1164" y1="250" x2="1164" y2="367" stroke="#000" stroke-width="4"/>
<circle cx="1164" cy="883" r="6.3" fill="#000"/><line x1="1164" y1="754.9" x2="1164" y2="883" stroke="#000" stroke-width="4"/>
<text transform="translate(1174.7,747) rotate(-90)" x="-2.39" y="0" font-size="29.92" font-weight="normal" fill="#000">Mean Intensity (Normalized)</text>
<text x="11.44" y="555.5" font-size="39.35" font-weight="bold" fill="#000">D</text>
<line x1="142.9" y1="557.5" x2="142.9" y2="963" stroke="#000" stroke-width="5"/><circle cx="142.9" cy="963" r="2.5" fill="#000"/>
<line x1="126.8" y1="853.7" x2="627.3" y2="853.7" stroke="#000" stroke-width="5"/>
<line x1="126.8" y1="559.8" x2="143" y2="559.8" stroke="#000" stroke-width="4.6"/>
<line x1="126.8" y1="633.3" x2="143" y2="633.3" stroke="#000" stroke-width="4.6"/>
<line x1="126.8" y1="706.7" x2="143" y2="706.7" stroke="#000" stroke-width="4.6"/>
<line x1="126.8" y1="780.3" x2="143" y2="780.3" stroke="#000" stroke-width="4.6"/>
<line x1="126.8" y1="926.4" x2="143" y2="926.4" stroke="#000" stroke-width="4.6"/>
<line x1="223.7" y1="853.7" x2="223.7" y2="870" stroke="#000" stroke-width="4.6"/>
<line x1="387.2" y1="853.7" x2="387.2" y2="870" stroke="#000" stroke-width="4.6"/>
<line x1="550.8" y1="853.7" x2="550.8" y2="870" stroke="#000" stroke-width="4.6"/>
<text transform="translate(92.3,569) scale(1.0336,1)" x="-0.39" y="0" font-size="25.8" font-weight="bold" fill="#000">40</text>
<text transform="translate(92.6,640.2) scale(1.0299,1)" x="-0.58" y="0" font-size="25.8" font-weight="bold" fill="#000">30</text>
<text transform="translate(92.6,711) scale(1.0398,1)" x="-0.84" y="0" font-size="25.8" font-weight="bold" fill="#000">20</text>
<text transform="translate(93.9,781.6) scale(1.0208,1)" x="-1.61" y="0" font-size="25.8" font-weight="bold" fill="#000">10</text>
<text transform="translate(107.8,852) scale(1.0255,1)" x="-0.97" y="0" font-size="25.8" font-weight="bold" fill="#000">0</text>
<text transform="translate(85.8,923.3) scale(0.9817,1)" x="-0.97" y="0" font-size="25.8" font-weight="bold" fill="#000">-10</text>
<text transform="translate(74.7,817.5) rotate(-90)" x="-1.96" y="0" font-size="30.18" font-weight="bold" fill="#000">Force (nN)</text>
<text transform="translate(208.3,912.6) scale(0.8973,1)" x="-1.44" y="0" font-size="38.5" font-weight="bold" fill="#000">-1</text>
<text transform="translate(376.5,912.6) scale(1.1472,1)" x="-1.44" y="0" font-size="38.5" font-weight="bold" fill="#000">0</text>
<text transform="translate(541.6,912.6) scale(0.8001,1)" x="-2.41" y="0" font-size="38.5" font-weight="bold" fill="#000">1</text>
<text x="277" y="977.4" font-size="28.95" font-weight="bold" fill="#000">Z position</text>
<text transform="translate(423.2,977.4) scale(1.1281,1)" x="-1.09" y="0" font-size="23" font-weight="bold" fill="#000">(µm)</text>
<text x="176.46" y="518.5" font-size="20.59" font-weight="bold" fill="#c00000">RGD</text>
<line x1="277.3" y1="518" x2="392" y2="493.5" stroke="#000" stroke-width="4.2"/>
<circle cx="285.2" cy="528.7" r="9.7" fill="#bfbfbf"/>
<path d="M280 536 Q275 539 270.5 543" fill="none" stroke="#a01010" stroke-width="1.5"/>
<path d="M287 537 Q282 543 284 550" fill="none" stroke="#a01010" stroke-width="1.5"/>
<path d="M291 536 Q296 540 298 546" fill="none" stroke="#a01010" stroke-width="1.5"/>
<path d="M294 531 Q299 535 303 541" fill="none" stroke="#a01010" stroke-width="1.5"/>
<line x1="223.2" y1="535.8" x2="260" y2="538.8" stroke="#000" stroke-width="2.2"/>
<path d="M267.9 539.4 L258.5 534.2 L258 543.6 Z" fill="#000"/>
<text x="188.48" y="584.8" font-size="23.38" font-weight="bold" fill="#f01010">Indent</text>
<text x="310.99" y="584.8" font-size="23.23" font-weight="bold" fill="#1030f0">Retract</text>
<line x1="277.6" y1="554.7" x2="277.6" y2="588" stroke="#f01010" stroke-width="3.1"/><path d="M277.6 596 L272.6 586 L282.6 586 Z" fill="#f01010"/>
<line x1="291.6" y1="596" x2="291.6" y2="561" stroke="#1030f0" stroke-width="3.1"/><path d="M291.6 552.5 L286.6 562.5 L296.6 562.5 Z" fill="#1030f0"/>
<path d="M219 644 C220 630 236 617 256 609 C268 604 278 601 288 601 C302 601 322 611 333 621 C342 630 340 646 329 650 C318 653.5 300 651.8 285 651.8 L232 651.8 C222 651.8 218.5 650 219 644 Z" fill="#f07d2c"/>
<ellipse cx="282.4" cy="628.2" rx="18" ry="11.6" fill="#0b6fc4"/>
<rect x="202.8" y="651.6" width="147.5" height="9.9" fill="#12c899"/>
<defs><linearGradient id="gg" x1="0" y1="0" x2="0" y2="1"><stop offset="0" stop-color="#bcbcbc"/><stop offset="1" stop-color="#9a9a9a"/></linearGradient></defs>
<rect x="202.8" y="661.3" width="147.5" height="28.2" fill="url(#gg)"/>
<text x="227.07" y="685.6" font-size="26.64" font-weight="bold" fill="#111">Stiff Gel</text>
<rect x="177.3" y="689.4" width="204.1" height="28.6" fill="#000"/>
<line x1="150.5" y1="853.5" x2="341" y2="853.5" stroke="#f80000" stroke-width="5"/>
<path d="M340 853.7 C342 853.68 348.6 853.7 352 853.6 C355.4 853.5 357.3 853.45 360.4 853.1 C363.5 852.75 367.2 852.53 370.6 851.5 C374 850.47 377.4 849.02 380.8 846.9 C384.2 844.78 387.6 842.2 391 838.8 C394.4 835.4 397.8 831.27 401.2 826.5 C404.6 821.73 408 816.32 411.4 810.2 C414.8 804.08 418.2 797.28 421.6 789.8 C425 782.32 428.4 773.97 431.8 765.3 C435.2 756.63 438.6 747.35 442 737.8 C445.4 728.25 449.05 717.35 452.2 708 C455.35 698.65 458.58 688.98 460.9 681.7 C463.22 674.42 464.52 670.08 466.1 664.3 C467.68 658.52 468.9 652.78 470.4 647 C471.9 641.22 473.65 635.4 475.1 629.6 C476.55 623.8 477.77 618 479.1 612.2 C480.43 606.4 481.75 600.28 483.1 594.8 C484.45 589.32 486.52 581.88 487.2 579.3" fill="none" stroke="#f80000" stroke-width="4.4" stroke-linecap="round" stroke-linejoin="round"/>
<path d="M160 863.9 C165.83 865.08 183.4 868.53 195 871 C206.6 873.47 219.1 876.53 229.6 878.7 C240.1 880.87 249.5 882.22 258 884 C266.5 885.78 273.93 887.4 280.6 889.4 C287.27 891.4 292.47 893.65 298 896 C303.53 898.35 308.8 900.92 313.8 903.5 C318.8 906.08 323.33 908.75 328 911.5 C332.67 914.25 337.97 917.5 341.8 920 C345.63 922.5 347.8 925 351 926.5 C354.2 928 356.17 929.2 361 929 C365.83 928.8 373.5 927 380 925.3 C386.5 923.6 392.32 921.13 400 918.8 C407.68 916.47 418.27 913.72 426.1 911.3 C433.93 908.88 441.5 906.9 447 904.3 C452.5 901.7 455.93 898.42 459.1 895.7 C462.27 892.98 463.92 890.62 466 888 C468.08 885.38 469.98 883.27 471.6 880 C473.22 876.73 474.17 872.88 475.7 868.4 C477.23 863.92 479.6 857.35 480.8 853.1 C482 848.85 481.88 848.02 482.9 842.9 C483.92 837.78 485.72 829.22 486.9 822.4 C488.08 815.58 488.97 808.8 490 802 C491.03 795.2 492.35 789.05 493.1 781.6 C493.85 774.15 494.27 761.35 494.5 757.3" fill="none" stroke="#1a1af0" stroke-width="4.7" stroke-linecap="round" stroke-linejoin="round"/>
<line x1="492.1" y1="578.3" x2="492.1" y2="750.5" stroke="#000" stroke-width="3.6" stroke-dasharray="17.3 13.9"/>
<line x1="360.4" y1="869.3" x2="360.4" y2="918" stroke="#000" stroke-width="4.5"/><path d="M360.4 857.7 L354 870.3 L366.8 870.3 Z" fill="#000"/><path d="M360.4 929.6 L354 917 L366.8 917 Z" fill="#000"/>
<text x="178.28" y="780.3" font-size="23.39" font-weight="bold" fill="#000">Maximum Adhesive</text>
<text x="259.05" y="807.8" font-size="23.44" font-weight="bold" fill="#000">force</text>
<line x1="294.6" y1="819.8" x2="346" y2="876.8" stroke="#000" stroke-width="3.6"/>
<path d="M353.2 884.8 L339 877 L349.5 867.5 Z" fill="#000"/>
<text x="498.77" y="603" font-size="23.52" font-weight="bold" fill="#000">Dwell time</text>
<text x="521.75" y="631.3" font-size="23.18" font-weight="bold" fill="#000">10 sec</text>
<text transform="translate(438.5,687.5) rotate(-72.5)" font-size="25.5" font-weight="bold" fill="#f80000">Indent</text>
<text transform="translate(451,944.5) rotate(-46.5)" font-size="25.3" font-weight="bold" fill="#1030f0">Retract</text>
<defs><clipPath id="ce1"><rect x="240" y="1037.4" width="460" height="400"/></clipPath><clipPath id="ce2"><rect x="240" y="1461.6" width="500" height="400"/></clipPath><clipPath id="ce3"><path d="M259.5 1909 L262.5 1909 L270 1950 L800 1950 L800 2300 L240 2300 L240 1950 L259.5 1950 Z"/></clipPath></defs>
<text x="65.1" y="1052.1" font-size="38.41" font-weight="bold" fill="#000">E</text>
<text transform="translate(82,1246) rotate(-90)" x="-2.31" y="0" font-size="35.49" font-weight="bold" fill="#000">MCF-7</text>
<text transform="translate(82.5,1753.5) rotate(-90)" x="-2.3" y="0" font-size="35.39" font-weight="bold" fill="#000">MDA-MB-231</text>
<text transform="translate(81.6,2127.5) rotate(-90)" x="-2.35" y="0" font-size="36.17" font-weight="bold" fill="#000">HT-1080</text>
<text transform="translate(176,1286) rotate(-90)" x="-2.16" y="0" font-size="33.25" font-weight="bold" fill="#000">Force (nN)</text>
<text transform="translate(179.8,1710) rotate(-90)" x="-2.13" y="0" font-size="32.74" font-weight="bold" fill="#000">Force (nN)</text>
<text transform="translate(176,2110) rotate(-90)" x="-2.16" y="0" font-size="33.25" font-weight="bold" fill="#000">Force (nN)</text>
<line x1="264.3" y1="1038.8" x2="264.3" y2="1414.6" stroke="#000" stroke-width="4.5" stroke-linecap="round"/><line x1="250.9" y1="1212.9" x2="672.4" y2="1212.9" stroke="#000" stroke-width="4.5" stroke-linecap="round"/><line x1="250.8" y1="1038.8" x2="264.3" y2="1038.8" stroke="#000" stroke-width="4.2" stroke-linecap="round"/><line x1="250.8" y1="1096.8" x2="264.3" y2="1096.8" stroke="#000" stroke-width="4.2" stroke-linecap="round"/><line x1="250.8" y1="1155" x2="264.3" y2="1155" stroke="#000" stroke-width="4.2" stroke-linecap="round"/><line x1="250.8" y1="1270.9" x2="264.3" y2="1270.9" stroke="#000" stroke-width="4.2" stroke-linecap="round"/><line x1="250.8" y1="1329.1" x2="264.3" y2="1329.1" stroke="#000" stroke-width="4.2" stroke-linecap="round"/><line x1="250.8" y1="1387.2" x2="264.3" y2="1387.2" stroke="#000" stroke-width="4.2" stroke-linecap="round"/><line x1="417" y1="1199.6" x2="417" y2="1212.9" stroke="#000" stroke-width="4" stroke-linecap="round"/><line x1="569.7" y1="1199.6" x2="569.7" y2="1212.9" stroke="#000" stroke-width="4" stroke-linecap="round"/>
<text transform="translate(226.87,1046.8) scale(0.9600,1)" x="-0.53" y="0" font-size="23.6" font-weight="bold" fill="#000">3</text>
<text transform="translate(227.21,1104.8) scale(0.9600,1)" x="-0.77" y="0" font-size="23.6" font-weight="bold" fill="#000">2</text>
<text transform="translate(224.21,1162.6) scale(0.9600,1)" x="-1.48" y="0" font-size="23.6" font-weight="bold" fill="#000">1</text>
<text transform="translate(225.73,1220.5) scale(0.9600,1)" x="-0.89" y="0" font-size="23.6" font-weight="bold" fill="#000">0</text>
<text transform="translate(216.11,1278.8) scale(0.9600,1)" x="-0.89" y="0" font-size="23.6" font-weight="bold" fill="#000">-1</text>
<text transform="translate(219.79,1336.8) scale(0.9600,1)" x="-0.89" y="0" font-size="23.6" font-weight="bold" fill="#000">-2</text>
<text transform="translate(219.68,1395.1) scale(0.9600,1)" x="-0.89" y="0" font-size="23.6" font-weight="bold" fill="#000">-3</text>
<g clip-path="url(#ce1)"><path d="M274.1 1034 L284.6 1097 L294.8 1155 L303.5 1210.6 L311 1240 L320 1271.8 L328.5 1312.7 L337.5 1343.3 L346.1 1369.8 L356.3 1388.2 L361.4 1396.3 L370.6 1390.2 L374.7 1373.9 L378.8 1357.6 L384.9 1341.2 L395.1 1337.1 L399.2 1331 L409.4 1331 L413.5 1324.9 L423.7 1322.9 L440 1320.8 L448.2 1314.7 L464.5 1314.7 L476.7 1306.5 L491 1305.5 L493.1 1294.3 L493.1 1284.1 L511.4 1282 L515.5 1275.9 L529.8 1273.9 L534.5 1258 L546.5 1255.3 L551.5 1243 L571.4 1238.8 L575.5 1230.6 L589.8 1228.6 L593.9 1221.4 L624.5 1218.4 L644.9 1214.3 L655.1 1212.7" fill="none" stroke="#000" stroke-width="9.6" stroke-linejoin="round" stroke-linecap="round"/><path d="M273.3 1034 L280.5 1097 L289 1155 L299.4 1210.6 L307.3 1251.4 L315.5 1294.3 L323.7 1326.9 L329.8 1341.2 L333.9 1335.1 L335.9 1310.6 L340 1300.4 L348.2 1292.2 L356.3 1296.3 L366.5 1286.1 L374.7 1288.2 L386.9 1280 L399.2 1282 L403.3 1273.9 L407.3 1273.9 L407.3 1261.6 L408.4 1241.2 L409.4 1237.1 L433.9 1236.1 L450.2 1230 L484.9 1233.1 L517.6 1235.1 L521.6 1229 L533.9 1228 L539.5 1216.5 L569.4 1217.3 L573.5 1212.5 L604 1212.7 L655.1 1212.7" fill="none" stroke="#808080" stroke-width="8.5" stroke-linejoin="round" stroke-linecap="round"/></g>
<line x1="326.9" y1="1224.5" x2="326.9" y2="1317.7" stroke="#000" stroke-width="3.6"/><path d="M326.9 1215.2 L320.8 1225.5 L333 1225.5 Z" fill="#000"/><path d="M326.9 1327 L320.8 1316.7 L333 1316.7 Z" fill="#000"/>
<line x1="362.4" y1="1224.5" x2="362.4" y2="1378.7" stroke="#000" stroke-width="3.6"/><path d="M362.4 1215.2 L356.3 1225.5 L368.5 1225.5 Z" fill="#000"/><path d="M362.4 1388 L356.3 1377.7 L368.5 1377.7 Z" fill="#000"/>
<text transform="translate(415.9,1139.8) scale(1.1033,1)" x="-0.58" y="0" font-size="21.2" font-weight="bold" fill="#000">Z position (µm)</text>
<text transform="translate(407.1,1179.2) scale(1.0227,1)" x="-1.58" y="0" font-size="25.3" font-weight="bold" fill="#000">1.5</text>
<text transform="translate(559.2,1179.2) scale(0.9960,1)" x="-0.57" y="0" font-size="25.3" font-weight="bold" fill="#000">3</text>
<text x="413.47" y="1269" font-size="25.68" font-weight="bold" fill="#9a9a9a">GM6001</text>
<text x="508.09" y="1329" font-size="26.32" font-weight="bold" fill="#000">DMSO</text>
<line x1="265.2" y1="1436.1" x2="957.2" y2="1436.1" stroke="#000" stroke-width="3.9" stroke-dasharray="17.4 13.27"/>
<line x1="261" y1="1461.9" x2="261" y2="1825.3" stroke="#000" stroke-width="4.5" stroke-linecap="round"/><line x1="247.9" y1="1592.2" x2="706.3" y2="1592.2" stroke="#000" stroke-width="4.5" stroke-linecap="round"/><line x1="247.8" y1="1487.8" x2="261" y2="1487.8" stroke="#000" stroke-width="4.2" stroke-linecap="round"/><line x1="247.8" y1="1539.8" x2="261" y2="1539.8" stroke="#000" stroke-width="4.2" stroke-linecap="round"/><line x1="247.8" y1="1643.9" x2="261" y2="1643.9" stroke="#000" stroke-width="4.2" stroke-linecap="round"/><line x1="247.8" y1="1696.3" x2="261" y2="1696.3" stroke="#000" stroke-width="4.2" stroke-linecap="round"/><line x1="247.8" y1="1748.8" x2="261" y2="1748.8" stroke="#000" stroke-width="4.2" stroke-linecap="round"/><line x1="247.8" y1="1801.4" x2="261" y2="1801.4" stroke="#000" stroke-width="4.2" stroke-linecap="round"/><line x1="365.1" y1="1579.6" x2="365.1" y2="1592.2" stroke="#000" stroke-width="4" stroke-linecap="round"/><line x1="469.7" y1="1579.6" x2="469.7" y2="1592.2" stroke="#000" stroke-width="4" stroke-linecap="round"/><line x1="574" y1="1579.6" x2="574" y2="1592.2" stroke="#000" stroke-width="4" stroke-linecap="round"/><line x1="678.3" y1="1579.6" x2="678.3" y2="1592.2" stroke="#000" stroke-width="4" stroke-linecap="round"/>
<text transform="translate(226.42,1497.4) scale(0.9600,1)" x="-0.35" y="0" font-size="23.6" font-weight="bold" fill="#000">4</text>
<text transform="translate(227.61,1549.5) scale(0.9600,1)" x="-0.77" y="0" font-size="23.6" font-weight="bold" fill="#000">2</text>
<text transform="translate(226.83,1601.5) scale(0.9600,1)" x="-0.89" y="0" font-size="23.6" font-weight="bold" fill="#000">0</text>
<text transform="translate(220.19,1653.6) scale(0.9600,1)" x="-0.89" y="0" font-size="23.6" font-weight="bold" fill="#000">-2</text>
<text transform="translate(219.4,1705.8) scale(0.9600,1)" x="-0.89" y="0" font-size="23.6" font-weight="bold" fill="#000">-4</text>
<text transform="translate(220.08,1758) scale(0.9600,1)" x="-0.89" y="0" font-size="23.6" font-weight="bold" fill="#000">-6</text>
<text transform="translate(219.97,1810.2) scale(0.9600,1)" x="-0.89" y="0" font-size="23.6" font-weight="bold" fill="#000">-8</text>
<g clip-path="url(#ce2)"><path d="M268.7 1456 C269.17 1463.33 270.53 1486.03 271.5 1500 C272.47 1513.97 273.7 1528.97 274.5 1539.8 C275.3 1550.63 275.7 1556.63 276.3 1565 C276.9 1573.37 277.38 1581.67 278.1 1590 C278.82 1598.33 279.67 1606.02 280.6 1615 C281.53 1623.98 282.72 1635.07 283.7 1643.9 C284.68 1652.73 285.12 1658.17 286.5 1668 C287.88 1677.83 289.55 1690.97 292 1702.9 C294.45 1714.83 297.97 1728.38 301.2 1739.6 C304.43 1750.82 308 1761.7 311.4 1770.2 C314.8 1778.7 318.53 1785.83 321.6 1790.6 C324.67 1795.37 326.4 1796.58 329.8 1798.8 C333.2 1801.02 337.92 1803.4 342 1803.9 C346.08 1804.4 350.22 1803.33 354.3 1801.8 C358.38 1800.27 361.73 1796.22 366.5 1794.7 C371.27 1793.18 377.45 1793.72 382.9 1792.7 C388.35 1791.68 394.1 1789.97 399.2 1788.6 C404.3 1787.23 408.4 1785.35 413.5 1784.5 C418.6 1783.65 424.7 1784.87 429.8 1783.5 C434.9 1782.13 439 1778.52 444.1 1776.3 C449.2 1774.08 456.67 1772.23 460.4 1770.2 C464.13 1768.17 464.45 1767.83 466.5 1764.1 C468.55 1760.37 470.65 1752.9 472.7 1747.8 C474.75 1742.7 476.08 1739.63 478.8 1733.5 C481.52 1727.37 485.6 1717.17 489 1711 C492.4 1704.83 496.48 1699.9 499.2 1696.5 C501.92 1693.1 501.9 1692.43 505.3 1690.6 C508.7 1688.77 516.53 1687.88 519.6 1685.5 C522.67 1683.12 520.98 1679.87 523.7 1676.3 C526.42 1672.73 531.48 1668.07 535.9 1664.1 C540.32 1660.13 542.37 1657.33 550.2 1652.5 C558.03 1647.67 572.02 1641.4 582.9 1635.1 C593.78 1628.8 606.67 1620.82 615.5 1614.7 C624.33 1608.58 629.78 1602.48 635.9 1598.4 C642.02 1594.32 649.48 1591.57 652.2 1590.2" fill="none" stroke="#000" stroke-width="7.2" stroke-linecap="round" stroke-linejoin="round"/><path d="M301.2 1739.6 C302.9 1744.7 308 1761.7 311.4 1770.2 C314.8 1778.7 318.53 1785.83 321.6 1790.6 C324.67 1795.37 326.4 1796.58 329.8 1798.8 C333.2 1801.02 337.92 1803.4 342 1803.9 C346.08 1804.4 350.22 1803.33 354.3 1801.8 C358.38 1800.27 361.73 1796.22 366.5 1794.7 C371.27 1793.18 377.45 1793.72 382.9 1792.7 C388.35 1791.68 394.1 1789.97 399.2 1788.6 C404.3 1787.23 408.4 1785.35 413.5 1784.5 C418.6 1783.65 424.7 1784.87 429.8 1783.5 C434.9 1782.13 439 1778.52 444.1 1776.3 C449.2 1774.08 456.67 1772.23 460.4 1770.2 C464.13 1768.17 464.45 1767.83 466.5 1764.1 C468.55 1760.37 470.65 1752.9 472.7 1747.8 C474.75 1742.7 476.08 1739.63 478.8 1733.5 C481.52 1727.37 485.6 1717.17 489 1711 C492.4 1704.83 496.48 1699.9 499.2 1696.5 C501.92 1693.1 501.9 1692.43 505.3 1690.6 C508.7 1688.77 516.53 1687.88 519.6 1685.5 C522.67 1683.12 520.98 1679.87 523.7 1676.3 C526.42 1672.73 531.48 1668.07 535.9 1664.1 C540.32 1660.13 542.37 1657.33 550.2 1652.5 C558.03 1647.67 572.02 1641.4 582.9 1635.1 C593.78 1628.8 606.67 1620.82 615.5 1614.7 C624.33 1608.58 629.78 1602.48 635.9 1598.4 C642.02 1594.32 649.48 1591.57 652.2 1590.2" fill="none" stroke="#000" stroke-width="9.4" stroke-linecap="round" stroke-linejoin="round"/></g>
<path d="M261.6 1501.6 C261.73 1505 262.07 1515.63 262.4 1522 C262.73 1528.37 262.92 1532.63 263.6 1539.8 C264.28 1546.97 265.1 1556.63 266.5 1565 C267.9 1573.37 269.6 1581.28 272 1590 C274.4 1598.72 277.57 1610.88 280.9 1617.3 C284.23 1623.72 288 1625.43 292 1628.5 C296 1631.57 300 1633.53 304.9 1635.7 C309.8 1637.87 315.45 1639.72 321.4 1641.5 C327.35 1643.28 334.67 1646.12 340.6 1646.4 C346.53 1646.68 351.65 1644.5 357 1643.2 C362.35 1641.9 367.37 1640.05 372.7 1638.6 C378.03 1637.15 384.25 1636.47 389 1634.5 C393.75 1632.53 396.1 1628.67 401.2 1626.8 C406.3 1624.93 415.17 1625.25 419.6 1623.3 C424.03 1621.35 423.72 1617.15 427.8 1615.1 C431.88 1613.05 437.98 1612.82 444.1 1611 C450.22 1609.18 457.7 1605.9 464.5 1604.2 C471.3 1602.5 478.1 1601.7 484.9 1600.8 C491.7 1599.9 495.78 1599.63 505.3 1598.8 C514.82 1597.97 530.77 1596.47 542 1595.8 C553.23 1595.13 565.22 1594.6 572.7 1594.8 C580.18 1595 580.1 1597.08 586.9 1597 C593.7 1596.92 606.68 1595.03 613.5 1594.3 C620.32 1593.57 625.42 1592.88 627.8 1592.6" fill="none" stroke="#808080" stroke-width="7.4" stroke-linecap="round" stroke-linejoin="round"/>
<line x1="333" y1="1605.1" x2="333" y2="1632.9" stroke="#000" stroke-width="4.2"/><path d="M333 1594.4 L326.6 1606.1 L339.4 1606.1 Z" fill="#000"/><path d="M333 1643.6 L326.6 1631.9 L339.4 1631.9 Z" fill="#000"/>
<line x1="353.7" y1="1605.1" x2="353.7" y2="1786.3" stroke="#000" stroke-width="4.2"/><path d="M353.7 1594.4 L347.3 1606.1 L360.1 1606.1 Z" fill="#000"/><path d="M353.7 1797 L347.3 1785.3 L360.1 1785.3 Z" fill="#000"/>
<text transform="translate(458.8,1533) scale(1.1046,1)" x="-0.58" y="0" font-size="21.2" font-weight="bold" fill="#000">Z position (µm)</text>
<text transform="translate(362.17,1570) scale(0.9500,1)" x="-0.82" y="0" font-size="25.3" font-weight="bold" fill="#000">2</text>
<text transform="translate(463.74,1570) scale(0.9500,1)" x="-0.38" y="0" font-size="25.3" font-weight="bold" fill="#000">4</text>
<text transform="translate(567.14,1570) scale(0.9500,1)" x="-0.89" y="0" font-size="25.3" font-weight="bold" fill="#000">6</text>
<text transform="translate(668.72,1570) scale(0.9500,1)" x="-0.76" y="0" font-size="25.3" font-weight="bold" fill="#000">8</text>
<text x="408.38" y="1655.3" font-size="25.44" font-weight="bold" fill="#9a9a9a">GM6001</text>
<text x="559.7" y="1686" font-size="26.11" font-weight="bold" fill="#000">DMSO</text>
<line x1="259.1" y1="1853.2" x2="951.7" y2="1853.2" stroke="#000" stroke-width="3.9" stroke-dasharray="17.4 13.27"/>
<line x1="257.9" y1="1862.1" x2="257.9" y2="2215.3" stroke="#000" stroke-width="4.5" stroke-linecap="round"/><line x1="245.6" y1="1984.1" x2="693.7" y2="1984.1" stroke="#000" stroke-width="4.5" stroke-linecap="round"/><line x1="245.5" y1="1885.5" x2="257.9" y2="1885.5" stroke="#000" stroke-width="4.2" stroke-linecap="round"/><line x1="245.5" y1="1934.8" x2="257.9" y2="1934.8" stroke="#000" stroke-width="4.2" stroke-linecap="round"/><line x1="245.5" y1="2033.7" x2="257.9" y2="2033.7" stroke="#000" stroke-width="4.2" stroke-linecap="round"/><line x1="245.5" y1="2083" x2="257.9" y2="2083" stroke="#000" stroke-width="4.2" stroke-linecap="round"/><line x1="245.5" y1="2133" x2="257.9" y2="2133" stroke="#000" stroke-width="4.2" stroke-linecap="round"/><line x1="245.5" y1="2182.4" x2="257.9" y2="2182.4" stroke="#000" stroke-width="4.2" stroke-linecap="round"/><line x1="360" y1="1972" x2="360" y2="1984.1" stroke="#000" stroke-width="4" stroke-linecap="round"/><line x1="462.6" y1="1972" x2="462.6" y2="1984.1" stroke="#000" stroke-width="4" stroke-linecap="round"/><line x1="565" y1="1972" x2="565" y2="1984.1" stroke="#000" stroke-width="4" stroke-linecap="round"/><line x1="667.2" y1="1972" x2="667.2" y2="1984.1" stroke="#000" stroke-width="4" stroke-linecap="round"/>
<text transform="translate(222.22,1896.8) scale(0.9600,1)" x="-0.35" y="0" font-size="23.6" font-weight="bold" fill="#000">4</text>
<text transform="translate(223.41,1945) scale(0.9600,1)" x="-0.77" y="0" font-size="23.6" font-weight="bold" fill="#000">2</text>
<text transform="translate(222.53,1993.5) scale(0.9600,1)" x="-0.89" y="0" font-size="23.6" font-weight="bold" fill="#000">0</text>
<text transform="translate(215.99,2043.1) scale(0.9600,1)" x="-0.89" y="0" font-size="23.6" font-weight="bold" fill="#000">-2</text>
<text transform="translate(215.2,2092) scale(0.9600,1)" x="-0.89" y="0" font-size="23.6" font-weight="bold" fill="#000">-4</text>
<text transform="translate(215.88,2141.5) scale(0.9600,1)" x="-0.89" y="0" font-size="23.6" font-weight="bold" fill="#000">-6</text>
<text transform="translate(215.77,2191) scale(0.9600,1)" x="-0.89" y="0" font-size="23.6" font-weight="bold" fill="#000">-8</text>
<g clip-path="url(#ce3)"><path d="M260 1905 C260.2 1907.5 260.78 1915.03 261.2 1920 C261.62 1924.97 261.93 1928.13 262.5 1934.8 C263.07 1941.47 263.82 1952.13 264.6 1960 C265.38 1967.87 266.05 1974 267.2 1982 C268.35 1990 269.73 1999.38 271.5 2008 C273.27 2016.62 275.63 2025.03 277.8 2033.7 C279.97 2042.37 282.05 2051.78 284.5 2060 C286.95 2068.22 289.72 2074.83 292.5 2083 C295.28 2091.17 298.38 2102.97 301.2 2109 C304.02 2115.03 306.67 2114.78 309.4 2119.2 C312.13 2123.62 314.53 2130.73 317.6 2135.5 C320.67 2140.27 324.07 2143.03 327.8 2147.8 C331.53 2152.57 335.58 2159 340 2164.1 C344.42 2169.2 349.88 2174.67 354.3 2178.4 C358.72 2182.13 362.08 2183.45 366.5 2186.5 C370.92 2189.55 377.05 2193.8 380.8 2196.7 C384.55 2199.6 383.22 2202.7 389 2203.9 C394.78 2205.1 410.4 2206.12 415.5 2203.9 C420.6 2201.68 417.9 2194.52 419.6 2190.6 C421.3 2186.68 423.67 2182.43 425.7 2180.4 C427.73 2178.37 429.75 2182.13 431.8 2178.4 C433.85 2174.67 435.95 2164.13 438 2158 C440.05 2151.87 442.07 2146.03 444.1 2141.6 C446.13 2137.17 446.8 2135.82 450.2 2131.4 C453.6 2126.98 461.43 2119.18 464.5 2115.1 C467.57 2111.02 466.22 2108.43 468.6 2106.9 C470.98 2105.37 476.08 2107.6 478.8 2105.9 C481.52 2104.2 482.52 2098.9 484.9 2096.7 C487.28 2094.5 491.07 2095.75 493.1 2092.7 C495.13 2089.65 494.73 2082.83 497.1 2078.4 C499.47 2073.97 502.98 2069.97 507.3 2066.1 C511.62 2062.23 517.22 2058.62 523 2055.2 C528.78 2051.78 537 2049.22 542 2045.6 C547 2041.98 547.88 2037.6 553 2033.5 C558.12 2029.4 567.05 2024.43 572.7 2021 C578.35 2017.57 582.15 2015.95 586.9 2012.9 C591.65 2009.85 596.77 2006.12 601.2 2002.7 C605.63 1999.28 610.43 1994.97 613.5 1992.4 C616.57 1989.83 618.58 1988.15 619.6 1987.3" fill="none" stroke="#000" stroke-width="9.6" stroke-linecap="round" stroke-linejoin="round"/></g>
<path d="M258.8 1965.2 C258.9 1966.83 259.13 1971.7 259.4 1975 C259.67 1978.3 259.72 1979.17 260.4 1985 C261.08 1990.83 261.98 2001.88 263.5 2010 C265.02 2018.12 267.08 2026.7 269.5 2033.7 C271.92 2040.7 274.92 2047.12 278 2052 C281.08 2056.88 284.37 2060.28 288 2063 C291.63 2065.72 295.4 2068.05 299.8 2068.3 C304.2 2068.55 308.48 2066.63 314.4 2064.5 C320.32 2062.37 328.35 2058.15 335.3 2055.5 C342.25 2052.85 350.32 2050.52 356.1 2048.6 C361.88 2046.68 366.22 2045.17 370 2044 C373.78 2042.83 373.93 2043.35 378.8 2041.6 C383.67 2039.85 392.73 2035.2 399.2 2033.5 C405.67 2031.8 412.17 2032.43 417.6 2031.4 C423.03 2030.37 425.68 2028.65 431.8 2027.3 C437.92 2025.95 448.85 2025 454.3 2023.3 C459.75 2021.6 459.4 2018.8 464.5 2017.1 C469.6 2015.4 478.1 2014.8 484.9 2013.1 C491.7 2011.4 498.5 2008.37 505.3 2006.9 C512.1 2005.43 521.08 2005.67 525.7 2004.3 C530.32 2002.93 527.55 2000.5 533 1998.7 C538.45 1996.9 553.15 1995.4 558.4 1993.5 C563.65 1991.6 560.42 1988.5 564.5 1987.3 C568.58 1986.1 574.4 1986.7 582.9 1986.3 C591.4 1985.9 610.07 1985.13 615.5 1984.9" fill="none" stroke="#808080" stroke-width="8" stroke-linecap="round" stroke-linejoin="round"/>
<line x1="301.3" y1="1997.9" x2="301.3" y2="2054.3" stroke="#000" stroke-width="4.2"/><path d="M301.3 1986.6 L294.8 1998.9 L307.8 1998.9 Z" fill="#000"/><path d="M301.3 2065.6 L294.8 2053.3 L307.8 2053.3 Z" fill="#000"/>
<line x1="400.2" y1="1997.9" x2="400.2" y2="2190.7" stroke="#000" stroke-width="4.2"/><path d="M400.2 1986.6 L393.7 1998.9 L406.7 1998.9 Z" fill="#000"/><path d="M400.2 2202 L393.7 2189.7 L406.7 2189.7 Z" fill="#000"/>
<text transform="translate(462.4,1925.5) scale(1.1106,1)" x="-0.58" y="0" font-size="21.2" font-weight="bold" fill="#000">Z position (µm)</text>
<text transform="translate(353.17,1963.2) scale(0.9500,1)" x="-0.82" y="0" font-size="25.3" font-weight="bold" fill="#000">2</text>
<text transform="translate(454.54,1963.2) scale(0.9500,1)" x="-0.38" y="0" font-size="25.3" font-weight="bold" fill="#000">4</text>
<text transform="translate(557.64,1963.2) scale(0.9500,1)" x="-0.89" y="0" font-size="25.3" font-weight="bold" fill="#000">6</text>
<text transform="translate(659.52,1963.2) scale(0.9500,1)" x="-0.76" y="0" font-size="25.3" font-weight="bold" fill="#000">8</text>
<text x="410.38" y="2060" font-size="25.57" font-weight="bold" fill="#9a9a9a">GM6001</text>
<text x="437.29" y="2225" font-size="26.25" font-weight="bold" fill="#000">DMSO</text>
<text x="781.35" y="1052.2" font-size="37.65" font-weight="bold" fill="#000">F</text>
<text transform="translate(850.2,1356) rotate(-90)" x="-1.74" y="0" font-size="26.69" font-weight="bold" fill="#000">Normalized Frequency</text>
<text transform="translate(853.2,1795.4) rotate(-90)" x="-1.74" y="0" font-size="26.82" font-weight="bold" fill="#000">Normalized Frequency</text>
<text transform="translate(855.4,2197) rotate(-90)" x="-1.74" y="0" font-size="26.74" font-weight="bold" fill="#000">Normalized Frequency</text>
<g shape-rendering="crispEdges"><rect x="979" y="1071" width="24" height="302.1" fill="#000"/><rect x="1025" y="1196" width="17" height="177.1" fill="#000"/><rect x="1108" y="1162" width="21" height="211.1" fill="#000"/><rect x="1129" y="1280" width="21" height="93.1" fill="#000"/><rect x="1150" y="1338" width="21" height="35.1" fill="#000"/><rect x="1171" y="1363" width="21" height="10.1" fill="#000"/></g><g shape-rendering="crispEdges"><rect x="940" y="1298" width="22" height="75.1" fill="#808080"/><rect x="962" y="1316" width="17" height="57.1" fill="#808080"/><rect x="979" y="1095" width="24" height="278.1" fill="#808080"/><rect x="1003" y="1104" width="22" height="269.1" fill="#808080"/><rect x="1025" y="1288" width="17" height="85.1" fill="#808080"/><rect x="1042" y="1169" width="21" height="204.1" fill="#808080"/><rect x="1063" y="1132" width="21" height="241.1" fill="#808080"/><rect x="1084" y="1086" width="24" height="287.1" fill="#808080"/><rect x="1108" y="1178" width="21" height="195.1" fill="#808080"/><rect x="1129" y="1325" width="21" height="48.1" fill="#808080"/></g>
<line x1="939" y1="1027" x2="939" y2="1386.3" stroke="#000" stroke-width="4"/>
<line x1="925.5" y1="1373.1" x2="1230.7" y2="1373.1" stroke="#000" stroke-width="4"/>
<line x1="925.5" y1="1029" x2="939" y2="1029" stroke="#000" stroke-width="3.8"/>
<line x1="925.5" y1="1115" x2="939" y2="1115" stroke="#000" stroke-width="3.8"/>
<line x1="925.5" y1="1200.7" x2="939" y2="1200.7" stroke="#000" stroke-width="3.8"/>
<line x1="925.5" y1="1286.6" x2="939" y2="1286.6" stroke="#000" stroke-width="3.8"/>
<line x1="1022.7" y1="1373.1" x2="1022.7" y2="1386.3" stroke="#000" stroke-width="3.8"/>
<line x1="1106.7" y1="1373.1" x2="1106.7" y2="1386.3" stroke="#000" stroke-width="3.8"/>
<line x1="1190.3" y1="1373.1" x2="1190.3" y2="1386.3" stroke="#000" stroke-width="3.8"/>
<text transform="translate(872.5,1038.2) scale(0.9599,1)" x="-0.91" y="0" font-size="24.4" font-weight="bold" fill="#000">0.20</text>
<text transform="translate(872.5,1122.8) scale(0.9536,1)" x="-0.91" y="0" font-size="24.4" font-weight="bold" fill="#000">0.15</text>
<text transform="translate(872.5,1208.4) scale(0.9599,1)" x="-0.91" y="0" font-size="24.4" font-weight="bold" fill="#000">0.10</text>
<text transform="translate(872.5,1292.8) scale(0.9536,1)" x="-0.91" y="0" font-size="24.4" font-weight="bold" fill="#000">0.05</text>
<text transform="translate(905.1,1377.8) scale(0.9563,1)" x="-0.91" y="0" font-size="24.4" font-weight="bold" fill="#000">0</text>
<text x="933.35" y="1416.3" font-size="23.6" font-weight="bold" fill="#000">0</text>
<text x="1017.51" y="1416.3" font-size="23.6" font-weight="bold" fill="#000">2</text>
<text x="1101.5" y="1416.3" font-size="23.6" font-weight="bold" fill="#000">4</text>
<text x="1185.82" y="1416.3" font-size="23.6" font-weight="bold" fill="#000">6</text>
<text x="1024.79" y="1446.6" font-size="26.29" font-weight="bold" fill="#000">Force (nN)</text>
<text x="1093.36" y="1077.8" font-size="28.41" font-weight="bold" fill="#808080">GM6001</text>
<text x="1153.38" y="1287.2" font-size="29.46" font-weight="bold" fill="#000">DMSO</text>
<g shape-rendering="crispEdges"><rect x="1108" y="1762" width="21" height="42.3" fill="#000"/><rect x="1129" y="1776" width="14" height="28.3" fill="#000"/><rect x="1143" y="1728" width="21" height="76.3" fill="#000"/><rect x="1164" y="1762" width="13" height="42.3" fill="#000"/><rect x="1177" y="1667" width="21" height="137.3" fill="#000"/><rect x="1198" y="1694" width="17" height="110.3" fill="#000"/><rect x="1215" y="1701" width="17" height="103.3" fill="#000"/><rect x="1232" y="1714" width="17" height="90.3" fill="#000"/><rect x="1249" y="1748" width="17" height="56.3" fill="#000"/><rect x="1266" y="1790" width="17" height="14.3" fill="#000"/></g><g shape-rendering="crispEdges"><rect x="989" y="1724" width="17" height="80.3" fill="#808080"/><rect x="1006" y="1691" width="17" height="113.3" fill="#808080"/><rect x="1023" y="1494" width="21" height="310.3" fill="#808080"/><rect x="1044" y="1691" width="17" height="113.3" fill="#808080"/><rect x="1061" y="1742" width="17" height="62.3" fill="#808080"/></g>
<line x1="921.8" y1="1465" x2="921.8" y2="1817.5" stroke="#000" stroke-width="4"/>
<line x1="908.2" y1="1804.3" x2="1333.5" y2="1804.3" stroke="#000" stroke-width="4"/>
<line x1="908.4" y1="1466.9" x2="921.8" y2="1466.9" stroke="#000" stroke-width="3.8"/>
<line x1="908.4" y1="1534.6" x2="921.8" y2="1534.6" stroke="#000" stroke-width="3.8"/>
<line x1="908.4" y1="1601.8" x2="921.8" y2="1601.8" stroke="#000" stroke-width="3.8"/>
<line x1="908.4" y1="1669.3" x2="921.8" y2="1669.3" stroke="#000" stroke-width="3.8"/>
<line x1="908.4" y1="1736.6" x2="921.8" y2="1736.6" stroke="#000" stroke-width="3.8"/>
<line x1="990.4" y1="1804.3" x2="990.4" y2="1817.5" stroke="#000" stroke-width="3.8"/>
<line x1="1058.4" y1="1804.3" x2="1058.4" y2="1817.5" stroke="#000" stroke-width="3.8"/>
<line x1="1126.8" y1="1804.3" x2="1126.8" y2="1817.5" stroke="#000" stroke-width="3.8"/>
<line x1="1195" y1="1804.3" x2="1195" y2="1817.5" stroke="#000" stroke-width="3.8"/>
<line x1="1263.6" y1="1804.3" x2="1263.6" y2="1817.5" stroke="#000" stroke-width="3.8"/>
<line x1="1331.8" y1="1804.3" x2="1331.8" y2="1817.5" stroke="#000" stroke-width="3.8"/>
<text transform="translate(873.6,1477.4) scale(0.9571,1)" x="-0.91" y="0" font-size="24.4" font-weight="bold" fill="#000">0.5</text>
<text transform="translate(873.6,1545) scale(0.9411,1)" x="-0.91" y="0" font-size="24.4" font-weight="bold" fill="#000">0.4</text>
<text transform="translate(873.6,1612.2) scale(0.9625,1)" x="-0.91" y="0" font-size="24.4" font-weight="bold" fill="#000">0.3</text>
<text transform="translate(873.6,1679.2) scale(0.9662,1)" x="-0.91" y="0" font-size="24.4" font-weight="bold" fill="#000">0.2</text>
<text transform="translate(873.6,1746.8) scale(0.9571,1)" x="-0.91" y="0" font-size="24.4" font-weight="bold" fill="#000">0.1</text>
<text transform="translate(893.4,1812.2) scale(0.9563,1)" x="-0.91" y="0" font-size="24.4" font-weight="bold" fill="#000">0</text>
<text x="915.25" y="1847.6" font-size="23.6" font-weight="bold" fill="#000">0</text>
<text x="986.71" y="1847.6" font-size="23.6" font-weight="bold" fill="#000">2</text>
<text x="1051.5" y="1847.6" font-size="23.6" font-weight="bold" fill="#000">4</text>
<text x="1123.02" y="1847.6" font-size="23.6" font-weight="bold" fill="#000">6</text>
<text x="1194.42" y="1847.6" font-size="23.6" font-weight="bold" fill="#000">8</text>
<text x="1252.01" y="1847.6" font-size="23.6" font-weight="bold" fill="#000">10</text>
<text x="1323.41" y="1847.6" font-size="23.6" font-weight="bold" fill="#000">12</text>
<text x="1076.88" y="1875.7" font-size="26.52" font-weight="bold" fill="#000">Force (nN)</text>
<text x="1056.34" y="1522" font-size="28.89" font-weight="bold" fill="#808080">GM6001</text>
<text x="1224.3" y="1689" font-size="29.29" font-weight="bold" fill="#000">DMSO</text>
<g shape-rendering="crispEdges"><rect x="1002" y="2200" width="23" height="22.9" fill="#000"/><rect x="1156" y="2157" width="5" height="65.9" fill="#000"/><rect x="1161" y="2126" width="23" height="96.9" fill="#000"/><rect x="1184" y="2157" width="16" height="65.9" fill="#000"/><rect x="1200" y="2136" width="40" height="86.9" fill="#000"/><rect x="1240" y="2062" width="23" height="160.9" fill="#000"/><rect x="1263" y="2105" width="20" height="117.9" fill="#000"/><rect x="1283" y="2190" width="20" height="32.9" fill="#000"/></g><g shape-rendering="crispEdges"><rect x="1033" y="2206" width="21" height="16.9" fill="#808080"/><rect x="1054" y="2169" width="19" height="53.9" fill="#808080"/><rect x="1073" y="1989" width="43" height="233.9" fill="#808080"/><rect x="1116" y="2034" width="20" height="188.9" fill="#808080"/><rect x="1136" y="2139" width="20" height="83.9" fill="#808080"/><rect x="1156" y="2206" width="20" height="16.9" fill="#808080"/></g>
<line x1="924.3" y1="1893.5" x2="924.3" y2="2235.4" stroke="#000" stroke-width="4"/>
<line x1="911.8" y1="2222.9" x2="1322.6" y2="2222.9" stroke="#000" stroke-width="4"/>
<line x1="911.8" y1="1895.4" x2="924.3" y2="1895.4" stroke="#000" stroke-width="3.8"/>
<line x1="911.8" y1="1977.1" x2="924.3" y2="1977.1" stroke="#000" stroke-width="3.8"/>
<line x1="911.8" y1="2059.3" x2="924.3" y2="2059.3" stroke="#000" stroke-width="3.8"/>
<line x1="911.8" y1="2140.9" x2="924.3" y2="2140.9" stroke="#000" stroke-width="3.8"/>
<line x1="1003.6" y1="2222.9" x2="1003.6" y2="2235.4" stroke="#000" stroke-width="3.8"/>
<line x1="1083.2" y1="2222.9" x2="1083.2" y2="2235.4" stroke="#000" stroke-width="3.8"/>
<line x1="1162.5" y1="2222.9" x2="1162.5" y2="2235.4" stroke="#000" stroke-width="3.8"/>
<line x1="1241.4" y1="2222.9" x2="1241.4" y2="2235.4" stroke="#000" stroke-width="3.8"/>
<line x1="1320.7" y1="2222.9" x2="1320.7" y2="2235.4" stroke="#000" stroke-width="3.8"/>
<text transform="translate(873.6,1902.9) scale(0.9411,1)" x="-0.91" y="0" font-size="24.4" font-weight="bold" fill="#000">0.4</text>
<text transform="translate(873.6,1984.3) scale(0.9625,1)" x="-0.91" y="0" font-size="24.4" font-weight="bold" fill="#000">0.3</text>
<text transform="translate(873.6,2066.1) scale(0.9662,1)" x="-0.91" y="0" font-size="24.4" font-weight="bold" fill="#000">0.2</text>
<text transform="translate(873.6,2147.6) scale(0.9571,1)" x="-0.91" y="0" font-size="24.4" font-weight="bold" fill="#000">0.1</text>
<text transform="translate(893.4,2229.2) scale(0.9563,1)" x="-0.91" y="0" font-size="24.4" font-weight="bold" fill="#000">0</text>
<text x="917.05" y="2264.6" font-size="23.6" font-weight="bold" fill="#000">0</text>
<text x="995.31" y="2264.6" font-size="23.6" font-weight="bold" fill="#000">2</text>
<text x="1072.9" y="2264.6" font-size="23.6" font-weight="bold" fill="#000">4</text>
<text x="1155.92" y="2264.6" font-size="23.6" font-weight="bold" fill="#000">6</text>
<text x="1234.82" y="2264.6" font-size="23.6" font-weight="bold" fill="#000">8</text>
<text x="1305.51" y="2264.6" font-size="23.6" font-weight="bold" fill="#000">10</text>
<text x="1071.88" y="2291.4" font-size="26.46" font-weight="bold" fill="#000">Force (nN)</text>
<text x="1086.35" y="1972" font-size="28.7" font-weight="bold" fill="#808080">GM6001</text>
<text x="1270.59" y="2061.2" font-size="29.36" font-weight="bold" fill="#000">DMSO</text>
</svg>
</body></html>
